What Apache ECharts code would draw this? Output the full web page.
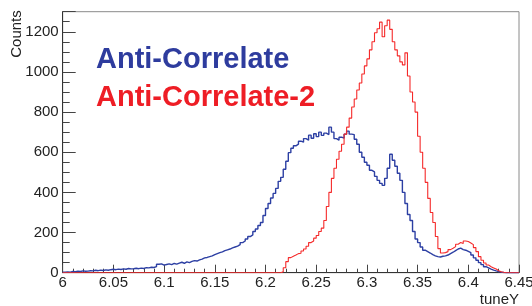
<!DOCTYPE html>
<html>
<head>
<meta charset="utf-8">
<script src="https://cdn.jsdelivr.net/npm/echarts@6/dist/echarts.min.js"></script>
<style>
  html, body { margin:0; padding:0; background:#fff; }
  #chart { width:532px; height:306px; }
</style>
</head>
<body>
<div id="chart"></div>
<script>
// ===== data (histogram bins, width 0.0025 starting at 6.0) =====
const xStart = 6.0;
const binWidth = 0.0025;
const xTicks = [6, 6.05, 6.1, 6.15, 6.2, 6.25, 6.3, 6.35, 6.4, 6.45];
const yTicks = [0, 200, 400, 600, 800, 1000, 1200];
const seriesNames = ['Anti-Correlate', 'Anti-Correlate-2'];

const blueCounts = [
  2,4,3,6,5,7,6,9,7,8,
  10,9,12,10,13,11,14,12,15,17,
  15,18,16,19,17,21,19,20,22,20,
  23,21,25,24,27,26,30,42,44,38,
  41,44,40,46,43,48,52,47,54,50,
  56,60,58,64,68,74,76,80,84,90,
  95,100,104,110,114,118,124,128,132,140,
  150,158,168,180,188,205,218,235,250,285,
  320,345,372,395,420,455,475,515,555,598,
  620,632,640,655,650,668,660,685,670,692,
  678,700,684,695,688,725,700,668,660,675,
  670,690,705,690,688,665,640,600,575,550,
  535,510,502,480,460,445,435,470,520,590,
  560,530,495,460,400,345,290,260,205,168,
  150,128,112,105,98,90,84,80,78,82,
  84,88,95,102,110,118,122,115,112,106,
  100,88,74,62,50,40,30,24,18,13,
  9,6,3,1,0,0,0,0,0,0
];

const redCounts = [
  0,0,0,0,0,0,0,0,0,0,
  0,0,0,0,0,0,0,0,0,0,
  0,0,0,0,0,0,0,0,0,0,
  0,0,0,0,0,0,0,0,0,0,
  0,0,0,0,0,0,0,0,0,0,
  0,0,0,0,0,0,0,0,0,0,
  0,0,0,0,0,0,0,0,0,0,
  0,0,0,0,0,0,0,0,0,0,
  0,0,0,0,0,0,5,25,55,75,
  82,88,95,97,108,118,132,150,158,172,
  185,205,222,260,330,400,470,520,565,605,
  640,690,725,770,825,865,910,945,990,1030,
  1065,1110,1150,1195,1215,1248,1175,1230,1258,1212,
  1150,1110,1080,1050,1035,1095,980,900,850,800,
  680,600,520,450,370,300,250,180,120,98,
  100,105,115,122,130,142,150,145,158,155,
  148,140,125,105,80,62,48,38,30,24,
  18,10,5,2,0,0,0,0,0,0
];

// bin low edges -> step points (plus closing edge)
function toSteps(counts){
  const pts = counts.map((c, i) => [xStart + i * binWidth, c]);
  pts.push([xStart + counts.length * binWidth, counts[counts.length - 1]]);
  return pts;
}

const FONT = 'Liberation Sans';
const chart = echarts.init(document.getElementById('chart'), null, { renderer:'canvas' });

const option = {
  animation: false,
  grid: {
    left: 62.7, right: 13, top: 11.7, bottom: 33.3,
    containLabel: false, outerBoundsMode: 'none',
    show: true, borderColor: '#8a8a8a', borderWidth: 1, backgroundColor: 'transparent'
  },
  xAxis: {
    type: 'value',
    min: xTicks[0], max: xTicks[xTicks.length - 1], interval: 0.05,
    axisLine: { show: true, lineStyle: { color: '#333', width: 1 } },
    axisTick: { show: true, inside: true, length: 8, lineStyle: { color: '#444' } },
    minorTick: { show: true, splitNumber: 5, length: 4, lineStyle: { color: '#444' } },
    splitLine: { show: false },
    axisLabel: {
      margin: 3, color: '#222', fontFamily: FONT, fontSize: 15,
      formatter: v => String(parseFloat(v.toFixed(2)))
    }
  },
  yAxis: {
    type: 'value',
    min: yTicks[0], max: 1300, interval: 200,
    axisLine: { show: true, lineStyle: { color: '#333', width: 1 } },
    axisTick: { show: true, inside: true, length: 13, lineStyle: { color: '#444' } },
    minorTick: { show: true, splitNumber: 4, length: 7, lineStyle: { color: '#444' } },
    splitLine: { show: false },
    axisLabel: {
      margin: 4, color: '#222', fontFamily: FONT, fontSize: 15,
      showMaxLabel: false,
      formatter: v => yTicks.includes(v) ? String(v) : ''
    }
  },
  series: [
    {
      name: seriesNames[0], type: 'line', step: 'end',
      data: toSteps(blueCounts), showSymbol: false, silent: true,
      lineStyle: { color: '#2c3fa3', width: 1.4 }
    },
    {
      name: seriesNames[1], type: 'line', step: 'end',
      data: toSteps(redCounts), showSymbol: false, silent: true,
      lineStyle: { color: '#f52a2a', width: 1.1 }
    }
  ],
  graphic: [
    { type:'text', left: 96, top: 45,
      style: { text: seriesNames[0], fill:'#2e3c9e', font: 'bold 29px "Liberation Sans"' } },
    { type:'text', left: 96, top: 83,
      style: { text: seriesNames[1], fill:'#ee1d25', font: 'bold 29px "Liberation Sans"' } },
    { type:'text', x: 17, y: 34, rotation: Math.PI / 2,
      style: { text: 'Counts', fill:'#222', font: '15px "Liberation Sans"', align:'center', verticalAlign:'middle' } },
    { type:'text', x: 519, y: 300,
      style: { text: 'tuneY', fill:'#222', font: '15px "Liberation Sans"', align:'right', verticalAlign:'middle' } }
  ]
};

chart.setOption(option);
</script>
</body>
</html>
